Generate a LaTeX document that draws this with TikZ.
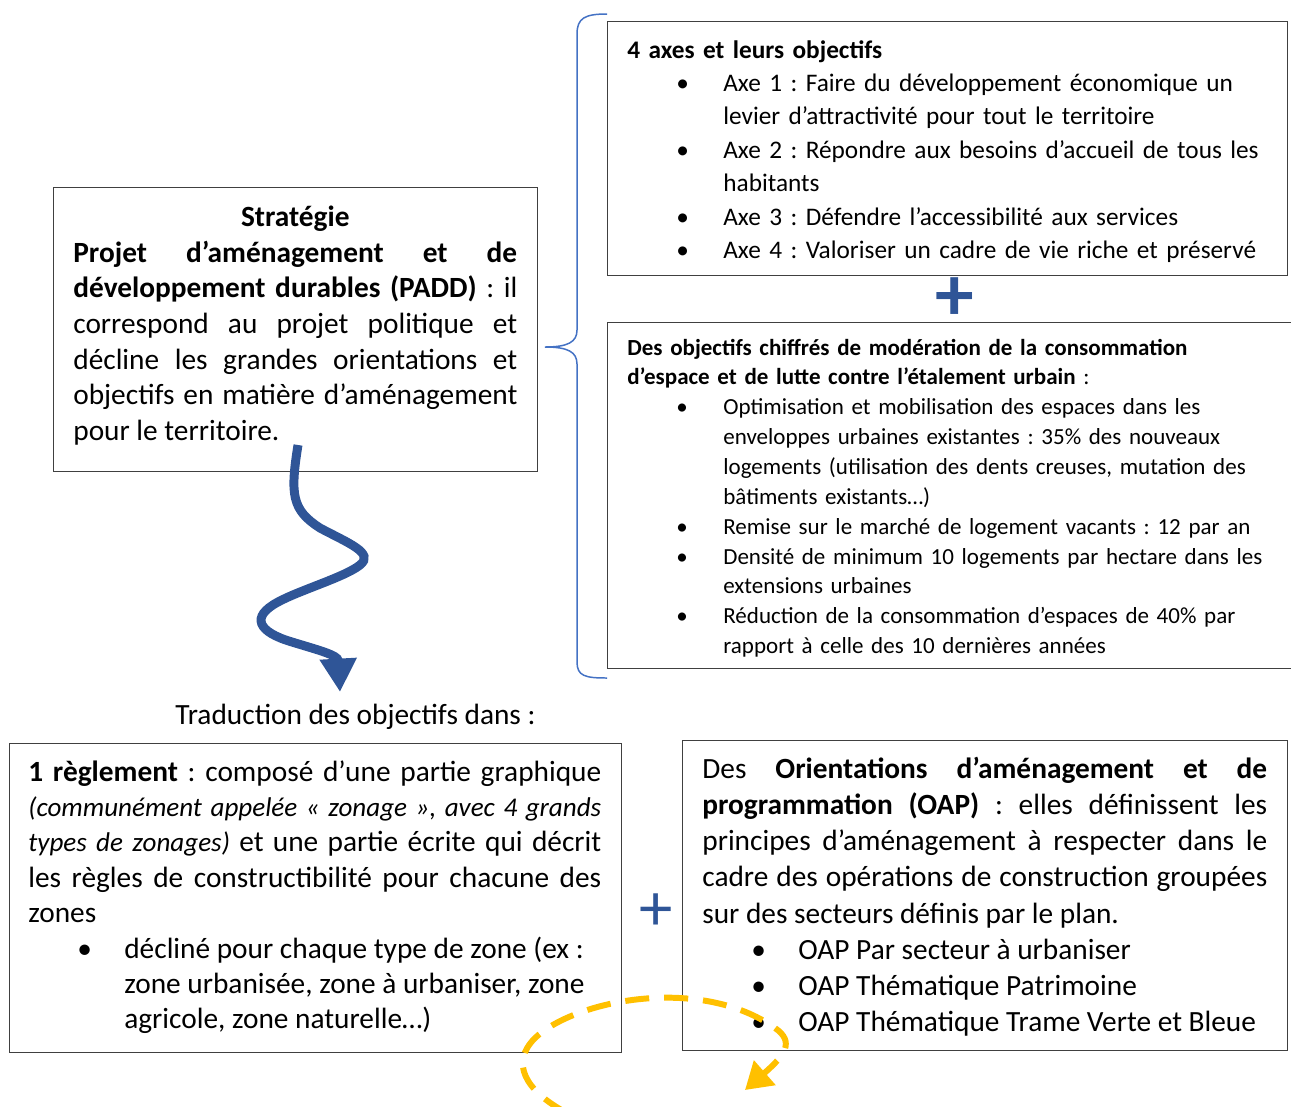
\documentclass[tikz,border=0pt]{standalone}
\usepackage{fontspec}
\setmainfont{Carlito}
\usetikzlibrary{arrows.meta, positioning}
\definecolor{WordBlue}{RGB}{47,85,151}
\definecolor{BraceBlue}{RGB}{68,114,196}
\definecolor{WordGold}{RGB}{255,192,0}
\definecolor{BoxGray}{RGB}{64,64,64}
\hyphenpenalty=10000
\exhyphenpenalty=10000
\AtBeginDocument{\frenchspacing}
\newdimen\pxu \pxu=0.02cm
% puce a la Word : point a 49px, texte a 96px
\newcommand{\puce}[1]{\par\hangindent=96\pxu\hangafter=1\noindent
	\hbox to 96\pxu{\hskip 49\pxu\textbullet\hfil}#1\par}
\newcommand{\jspace}{\spaceskip=0.226em plus 0.3em minus 0.12em}

\begin{document}
\begin{tikzpicture}[x=0.02cm, y=-0.02cm,
	box/.style={draw=BoxGray, line width=0.8pt, inner sep=0pt, anchor=north west},
	txt/.style={inner sep=0pt, anchor=base west},
	fl/.style={line width=5.1pt, WordBlue, -{Triangle[length=19pt, width=20pt]}},
	dl/.style={line width=3.4pt, WordGold, dash pattern=on 13.7pt off 8.5pt, -{Triangle[length=15pt, width=18pt]}},
	br/.style={BraceBlue, line width=0.85pt},
	plus/.style={text=WordBlue, inner sep=0pt}]

	\useasboundingbox (0,0) rectangle (1291,1106);

	% PADD
	\node[box, minimum width=9.68cm, minimum height=5.68cm] (strat) at (53,187) {};
	\node[txt, text width=8.88cm, align=justify, font=\fontsize{16.7}{20.3}\selectfont\jspace] (strattxt) at (73,226.5)
		{{\centering\textbf{Stratégie}\par}
		\textbf{Projet d’aménagement et de\linebreak développement durables (PADD)} : il\linebreak
		correspond au projet politique et\linebreak décline les grandes orientations et\linebreak
		objectifs en matière d’aménagement\linebreak pour le territoire.};

	% axes
	\node[box, minimum width=13.6cm, minimum height=5.08cm] (axes) at (607,21) {};
	\node[txt, text width=14cm, align=left, font=\fontsize{14.4}{19.06}\selectfont] (axestxt) at (627,58)
		{\textbf{4 axes et leurs objectifs}
		\puce{Axe 1 : Faire du développement économique un\newline levier d’attractivité pour tout le territoire}
		\puce{Axe 2 : Répondre aux besoins d’accueil de tous les\newline habitants}
		\puce{Axe 3 : Défendre l’accessibilité aux services}
		\puce{Axe 4 : Valoriser un cadre de vie riche et préservé}};
	\node[plus, font=\fontsize{44}{44}\selectfont\bfseries] (plushaut) at (955,299) {+};

	% objectifs chiffres
	\node[box, minimum width=13.86cm, minimum height=6.92cm] (chiffres) at (607,322) {};
	\node[txt, text width=14cm, align=left, font=\fontsize{13.1}{17}\selectfont] (chiffrestxt) at (627,355)
		{\textbf{Des objectifs chiffrés de modération de la consommation\newline
		d’espace et de lutte contre l’étalement urbain} :
		\puce{Optimisation et mobilisation des espaces dans les\newline enveloppes urbaines existantes : 35\% des nouveaux\newline
		logements (utilisation des dents creuses, mutation des\newline bâtiments existants…)}
		\puce{Remise sur le marché de logement vacants : 12 par an}
		\puce{Densité de minimum 10 logements par hectare dans les\newline extensions urbaines}
		\puce{Réduction de la consommation d’espaces de 40\% par\newline rapport à celle des 10 dernières années}};

	% accolade
	\coordinate (acchaut) at (607,14);
	\coordinate (accpointe) at (545,347);
	\coordinate (accbas) at (607,678);
	\draw[br] (acchaut) .. controls (585,14) and (577,18) .. (577,34) -- (577,330)
		.. controls (577,342) and (568,347) .. (accpointe)
		.. controls (568,347) and (577,352) .. (577,364) -- (577,662)
		.. controls (577,676) and (585,678) .. (accbas);

	% traduction
	\node[txt, font=\fontsize{16.7}{20.3}\selectfont] (trad) at (175,724.5) {Traduction des objectifs dans :};
	\coordinate (vagdep) at (298,445);
	\coordinate (vagfin) at (340,692);
	\draw[fl] (vagdep) .. controls (290,495) and (292,510) .. (320,528)
		.. controls (348,543) and (375,553) .. (360,565)
		.. controls (345,577) and (300,590) .. (278,602)
		.. controls (250,617) and (258,632) .. (292,642)
		.. controls (318,650) and (338,655) .. (vagfin);

	% reglement
	\node[box, minimum width=12.24cm, minimum height=6.18cm] (regl) at (9,743) {};
	\node[txt, text width=11.46cm, align=justify, font=\fontsize{16.7}{20.15}\selectfont\jspace] (regltxt) at (28,781)
		{\textbf{1 règlement} : composé d’une partie graphique\linebreak
		{\fontsize{15.4}{20.15}\selectfont\itshape (communément appelée « zonage », avec 4 grands\linebreak types de zonages)}
		et une partie écrite qui décrit\linebreak les règles de constructibilité pour chacune des\linebreak zones
		\puce{décliné pour chaque type de zone (ex :\newline zone urbanisée, zone à urbaniser, zone\newline
		agricole, zone naturelle…)}};
	\node[plus, font=\fontsize{38}{38}\selectfont] (plusbas) at (656,912) {+};

	% OAP
	\node[box, minimum width=12.1cm, minimum height=6.2cm] (oap) at (682,740) {};
	\node[txt, text width=11.3cm, align=justify, font=\fontsize{16.7}{20.65}\selectfont\jspace] (oaptxt) at (702,778)
		{Des \textbf{Orientations d’aménagement et de\linebreak programmation (OAP)} : elles définissent les\linebreak
		principes d’aménagement à respecter dans le\linebreak cadre des opérations de construction groupées\linebreak
		sur des secteurs définis par le plan.
		\puce{OAP Par secteur à urbaniser}
		\puce{OAP Thématique Patrimoine}
		\puce{OAP Thématique Trame Verte et Bleue}};

	% boucle
	\coordinate (bcldep) at (565,1112);
	\coordinate (bclfin) at (745,1090);
	\draw[dl] (bcldep) .. controls (525,1090) and (510,1063) .. (535,1038)
		.. controls (575,1000) and (700,975) .. (775,1028)
		.. controls (795,1042) and (785,1055) .. (bclfin);
\end{tikzpicture}
\end{document}
